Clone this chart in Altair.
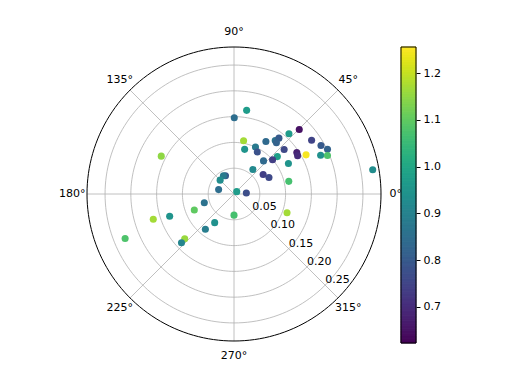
import altair as alt
import pandas as pd
import numpy as np

# ---- data ----
theta_deg = [89.8, 81.4, 79.8, 76.6, 65.4, 61.0, 58.7, 52.4, 51.2, 50.4,
             47.6, 44.7, 34.7, 29.1, 25.6, 24.1, 22.4, 28.5, 33.5, 31.1,
             41.6, 40.8, 41.6, 48.3, 29.3, 52.4, 33.8, 25.3, 13.0, 9.9,
             4.6, 41.0, 115.0, 120.0, 135.0, 164.0, 152.5, 196.3, 202.0, 199.1,
             197.4, 202.2, 236.0, 230.9, 222.2, 222.9, 270.0, 340.6]
r_vals = [0.148, 0.164, 0.105, 0.089, 0.100, 0.093, 0.119, 0.131, 0.139, 0.129,
          0.158, 0.178, 0.183, 0.193, 0.201, 0.184, 0.196, 0.159, 0.146, 0.144,
          0.130, 0.111, 0.100, 0.086, 0.121, 0.060, 0.068, 0.075, 0.109, 0.273,
          0.024, 0.007, 0.039, 0.041, 0.038, 0.031, 0.159, 0.060, 0.083, 0.132,
          0.164, 0.228, 0.067, 0.088, 0.129, 0.139, 0.041, 0.109]
c_vals = [0.85, 0.97, 1.17, 0.95, 0.88, 0.78, 0.84, 0.86, 0.80, 0.82,
          0.97, 0.65, 0.75, 0.80, 0.82, 0.94, 1.08, 1.25, 0.68, 0.70,
          0.76, 0.98, 0.74, 0.84, 0.95, 0.92, 0.74, 0.76, 1.07, 0.93,
          0.77, 0.97, 0.80, 0.88, 0.93, 0.85, 1.15, 0.86, 1.10, 0.95,
          1.17, 1.08, 0.94, 0.89, 1.16, 0.91, 1.07, 1.17]

R_MAX = 0.285
ring_r = [0.05, 0.10, 0.15, 0.20, 0.25]
ring_labels = ["0.05", "0.10", "0.15", "0.20", "0.25"]
spoke_deg = [0, 45, 90, 135, 180, 225, 270, 315]
spoke_labels = ["0°", "45°", "90°", "135°", "180°", "225°", "270°", "315°"]
rlabel_angle = -45.0
c_min, c_max = 0.623, 1.256
cbar_ticks = [0.7, 0.8, 0.9, 1.0, 1.1, 1.2]

FONT = "DejaVu Sans"
SIZE = 294

xs = alt.Scale(domain=[-R_MAX, R_MAX], nice=False, zero=False)
ys = alt.Scale(domain=[-R_MAX, R_MAX], nice=False, zero=False)
cscale = alt.Scale(scheme="viridis", domain=[c_min, c_max])

def X(f):
    return alt.X(f, type="quantitative", scale=xs, axis=None)

def Y(f):
    return alt.Y(f, type="quantitative", scale=ys, axis=None)

# grid circles
ang = list(range(0, 361, 2))
rings = pd.DataFrame([{"ring": rr, "a": a} for rr in ring_r for a in ang])
outer = pd.DataFrame([{"ring": R_MAX, "a": a} for a in ang])

circ_calc = dict(x="datum.ring*cos(datum.a*PI/180)", y="datum.ring*sin(datum.a*PI/180)")

grid = alt.Chart(rings).transform_calculate(**circ_calc).mark_line(
    color="#b0b0b0", strokeWidth=0.8
).encode(x=X("x"), y=Y("y"), detail="ring:N", order="a:Q")

spine = alt.Chart(outer).transform_calculate(**circ_calc).mark_line(
    color="black", strokeWidth=1
).encode(x=X("x"), y=Y("y"), order="a:Q")

spokes_df = pd.DataFrame({"t": spoke_deg, "lab": spoke_labels})
spokes = alt.Chart(spokes_df).transform_calculate(
    x0="0", y0="0",
    x1=f"{R_MAX}*cos(datum.t*PI/180)", y1=f"{R_MAX}*sin(datum.t*PI/180)"
).mark_rule(color="#b0b0b0", strokeWidth=0.8).encode(
    x=X("x0"), y=Y("y0"), x2="x1:Q", y2="y1:Q")

alabels = alt.Chart(spokes_df).transform_calculate(
    x=f"{R_MAX*1.1}*cos(datum.t*PI/180)", y=f"{R_MAX*1.1}*sin(datum.t*PI/180)"
).mark_text(font=FONT, fontSize=11, color="black", align="center", baseline="middle").encode(
    x=X("x"), y=Y("y"), text="lab:N")

rl_df = pd.DataFrame({"r": ring_r, "lab": ring_labels})
rlabels = alt.Chart(rl_df).transform_calculate(
    x=f"datum.r*cos({rlabel_angle}*PI/180)", y=f"datum.r*sin({rlabel_angle}*PI/180)"
).mark_text(font=FONT, fontSize=11, color="black", align="left", baseline="alphabetic", dy=-2).encode(
    x=X("x"), y=Y("y"), text="lab:N")

pts_df = pd.DataFrame({"theta": theta_deg, "r": r_vals, "c": c_vals})
pts_df["i"] = range(len(pts_df))
points = alt.Chart(pts_df).transform_calculate(
    x="datum.r*cos(datum.theta*PI/180)", y="datum.r*sin(datum.theta*PI/180)"
).mark_circle(size=50, opacity=1).encode(
    x=X("x"), y=Y("y"),
    color=alt.Color("c:Q", scale=cscale, legend=None),
    order="i:Q")

polar = alt.layer(grid, spokes, spine, points, rlabels, alabels).properties(
    width=SIZE, height=SIZE)

# colorbar
edges = np.linspace(c_min, c_max, 121)
cb_df = pd.DataFrame({"lo": edges[:-1], "hi": edges[1:]})
cb_df["mid"] = (cb_df["lo"] + cb_df["hi"]) / 2
cby = alt.Scale(domain=[c_min, c_max], nice=False, zero=False)
cbar = alt.Chart(cb_df).mark_rect(strokeWidth=1).encode(
    x=alt.value(0), x2=alt.value(15),
    y=alt.Y("lo:Q", scale=cby, axis=alt.Axis(
        orient="right", values=cbar_ticks, format=".1f", tickSize=4,
        tickColor="black", domain=False, grid=False, title=None,
        labelFont=FONT, labelFontSize=11, labelColor="black", labelPadding=3)),
    y2="hi:Q",
    color=alt.Color("mid:Q", scale=cscale, legend=None),
    stroke=alt.Stroke("mid:Q", scale=cscale, legend=None))
cborder = alt.Chart(pd.DataFrame({"a": [0]})).mark_rect(
    filled=False, stroke="black", strokeWidth=1).encode(
    x=alt.value(0), x2=alt.value(15),
    y=alt.datum(c_min, scale=cby), y2=alt.datum(c_max))
colorbar = alt.layer(cbar, cborder).properties(width=15, height=296)

chart = alt.hconcat(polar, colorbar, spacing=20, bounds="flush").properties(
    padding={"left": 51, "top": 18, "right": 5, "bottom": 5}
).configure(font=FONT).configure_view(stroke=None)

chart.save("out.html", embed_options={"renderer": "svg", "actions": False})
